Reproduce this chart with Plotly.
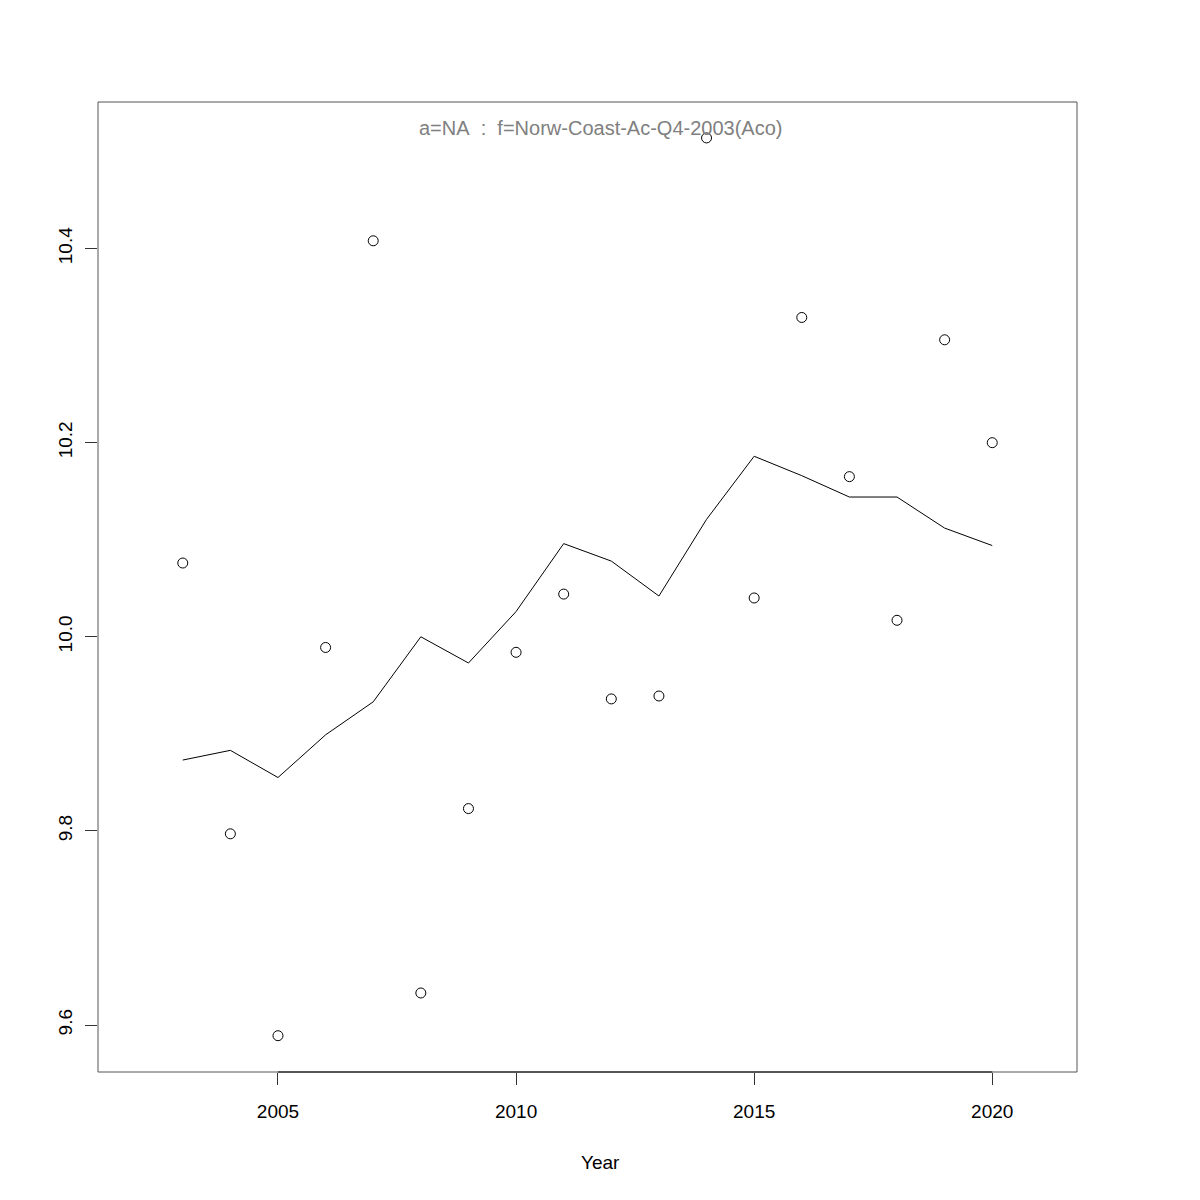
import plotly.graph_objects as go

years = list(range(2003, 2021))
obs = [10.076, 9.797, 9.589, 9.989, 10.408, 9.633, 9.823, 9.984, 10.044, 9.936,
       9.939, 10.514, 10.040, 10.329, 10.165, 10.017, 10.306, 10.200]
fit = [9.873, 9.883, 9.855, 9.899, 9.933, 10.000, 9.973, 10.026, 10.096, 10.078,
       10.042, 10.121, 10.186, 10.166, 10.144, 10.144, 10.112, 10.094]
xticks = [2005, 2010, 2015, 2020]
yticks = [9.6, 9.8, 10.0, 10.2, 10.4]
title_text = "a=NA\u00a0\u00a0:\u00a0\u00a0f=Norw-Coast-Ac-Q4-2003(Aco)"
x_title = "Year"

fig = go.Figure()
fig.add_trace(go.Scatter(x=years, y=fit, mode="lines",
                         line=dict(color="black", width=1), showlegend=False))
fig.add_trace(go.Scatter(x=years, y=obs, mode="markers",
                         marker=dict(symbol="circle-open", size=10,
                                     color="black", line=dict(width=1)),
                         showlegend=False))

font = dict(family="Liberation Sans, Arial, sans-serif", size=19, color="black")

fig.update_layout(
    width=1200, height=1200,
    margin=dict(l=90, r=131, t=94, b=136),
    paper_bgcolor="white", plot_bgcolor="white",
    font=font,
    xaxis=dict(range=[2001.22, 2021.78], tickvals=xticks, ticktext=[str(v) for v in xticks],
               showgrid=False, zeroline=False, showline=False,
               ticks="outside", ticklen=12, tickcolor="#333", tickwidth=1,
               ticklabelstandoff=10, tickfont=font),
    yaxis=dict(range=[9.5516, 10.551], tickvals=yticks, ticktext=[f"{v:.1f}" for v in yticks],
               showgrid=False, zeroline=False, showline=False,
               ticks="outside", ticklen=12, tickcolor="#333", tickwidth=1,
               ticklabelstandoff=5,
               tickangle=-90, tickfont=font),
    shapes=[
        dict(type="rect", xref="paper", yref="paper", x0=0, x1=1, y0=0, y1=1,
             line=dict(color="#555", width=1)),
        dict(type="line", xref="x", yref="paper", x0=2005, x1=2020, y0=0, y1=0,
             line=dict(color="black", width=1)),
    ],
    annotations=[
        dict(text=title_text, xref="paper", yref="paper", x=0.513, y=0.973,
             showarrow=False, xanchor="center", yanchor="middle",
             font=dict(family="Liberation Sans, Arial, sans-serif", size=20, color="#808080")),
        dict(text=x_title, xref="paper", yref="paper", x=0.5128, y=-0.0928,
             showarrow=False, xanchor="center", yanchor="middle", font=font),
    ],
)

fig.write_html("out.html")
